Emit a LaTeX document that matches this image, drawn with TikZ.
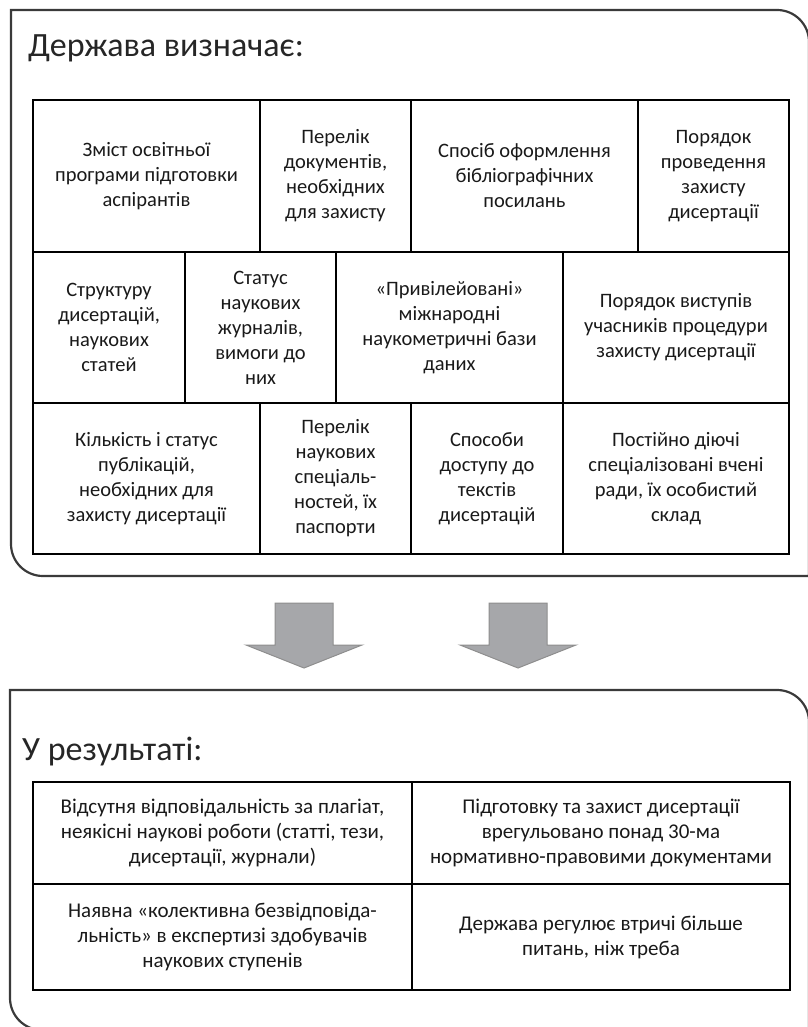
\documentclass[tikz,border=0pt]{standalone}
\usepackage{fontspec}
\setmainfont{Carlito}
\usepackage{tikz}
\usetikzlibrary{positioning}

\definecolor{framegray}{HTML}{3A3A3A}
\definecolor{arrowgray}{HTML}{A6A7AA}
\definecolor{arrowedge}{HTML}{8E8E8E}

\begin{document}
\begin{tikzpicture}[x=1pt, y=-1pt,
		frame/.style={draw=framegray, line width=2.2pt},
		cell/.style={draw=black, line width=2.2pt, align=center, inner sep=0pt,
			text=black!90, font=\fontsize{20.5}{25}\selectfont},
		rcell/.style={cell, font=\fontsize{21}{25}\selectfont},
		heading/.style={anchor=base west, inner sep=0pt, text=black!85,
			font=\fontsize{34}{40}\selectfont},
		downarrow/.style={fill=arrowgray, draw=arrowedge, line width=1pt}]
	
	\useasboundingbox (0,0) rectangle (807,1027);
	
	% upper frame
	\draw[frame] (11,10) -- (777,10) .. controls (794.7,10) and (809,24.3) .. (809,42)
		-- (809,576) -- (43,576) .. controls (25.3,576) and (11,561.7) .. (11,544) -- cycle;
	\node[heading] (state) at (28,57) {Держава визначає:};
	
	% row 1
	\node[cell, minimum width=227, minimum height=152] (a1) at (146.5,176) {Зміст освітньої\\програми підготовки\\аспірантів};
	\node[cell, minimum width=151, minimum height=152] (a2) at (335.5,176) {Перелік\\документів,\\необхідних\\для захисту};
	\node[cell, minimum width=227, minimum height=152] (a3) at (524.5,176) {Спосіб оформлення\\бібліографічних\\посилань};
	\node[cell, minimum width=151, minimum height=152] (a4) at (713.5,176) {Порядок\\проведення\\захисту\\дисертації};
	
	% row 2
	\node[cell, minimum width=152, minimum height=151] (b1) at (109,327.5) {Структуру\\дисертацій,\\наукових\\статей};
	\node[cell, minimum width=151, minimum height=151] (b2) at (260.5,327.5) {Статус\\наукових\\журналів,\\вимоги до\\них};
	\node[cell, minimum width=227, minimum height=151] (b3) at (449.5,327.5) {«Привілейовані»\\міжнародні\\наукометричні бази\\даних};
	\node[cell, minimum width=226, minimum height=151] (b4) at (676,327.5) {Порядок виступів\\учасників процедури\\захисту дисертації};
	
	% row 3
	\node[cell, minimum width=227, minimum height=151] (c1) at (146.5,478.5) {Кількість і статус\\публікацій,\\необхідних для\\захисту дисертації};
	\node[cell, minimum width=151, minimum height=151] (c2) at (335.5,478.5) {Перелік\\наукових\\спеціаль-\\ностей, їх\\паспорти};
	\node[cell, minimum width=152, minimum height=151] (c3) at (487,478.5) {Способи\\доступу до\\текстів\\дисертацій};
	\node[cell, minimum width=226, minimum height=151] (c4) at (676,478.5) {Постійно діючі\\спеціалізовані вчені\\ради, їх особистий\\склад};
	
	% arrows
	\foreach \dx in {0,214} {
		\begin{scope}[xshift=\dx pt]
			\draw[downarrow] (275,603) -- (333,603) -- (333,645) -- (362,645)
				-- (304,668) -- (246,645) -- (275,645) -- cycle;
		\end{scope}
	}
	
	% lower frame
	\draw[frame] (10,690) -- (777,690) .. controls (794.7,690) and (809,704.3) .. (809,722)
		-- (809,1030) -- (42,1030) .. controls (24.3,1030) and (10,1015.7) .. (10,998) -- cycle;
	\node[heading] (result) at (22,760) {У результаті:};
	
	\node[rcell, minimum width=379, minimum height=102] (d1) at (222.5,833) {Відсутня відповідальність за плагіат,\\неякісні наукові роботи (статті, тези,\\дисертації, журнали)};
	\node[rcell, minimum width=378, minimum height=102] (d2) at (601,833) {Підготовку та захист дисертації\\врегульовано понад 30-ма\\нормативно-правовими документами};
	\node[rcell, minimum width=379, minimum height=106] (e1) at (222.5,937) {Наявна «колективна безвідповіда-\\льність» в експертизі здобувачів\\наукових ступенів};
	\node[rcell, minimum width=378, minimum height=106] (e2) at (601,937) {Держава регулює втричі більше\\питань, ніж треба};
	
\end{tikzpicture}
\end{document}
